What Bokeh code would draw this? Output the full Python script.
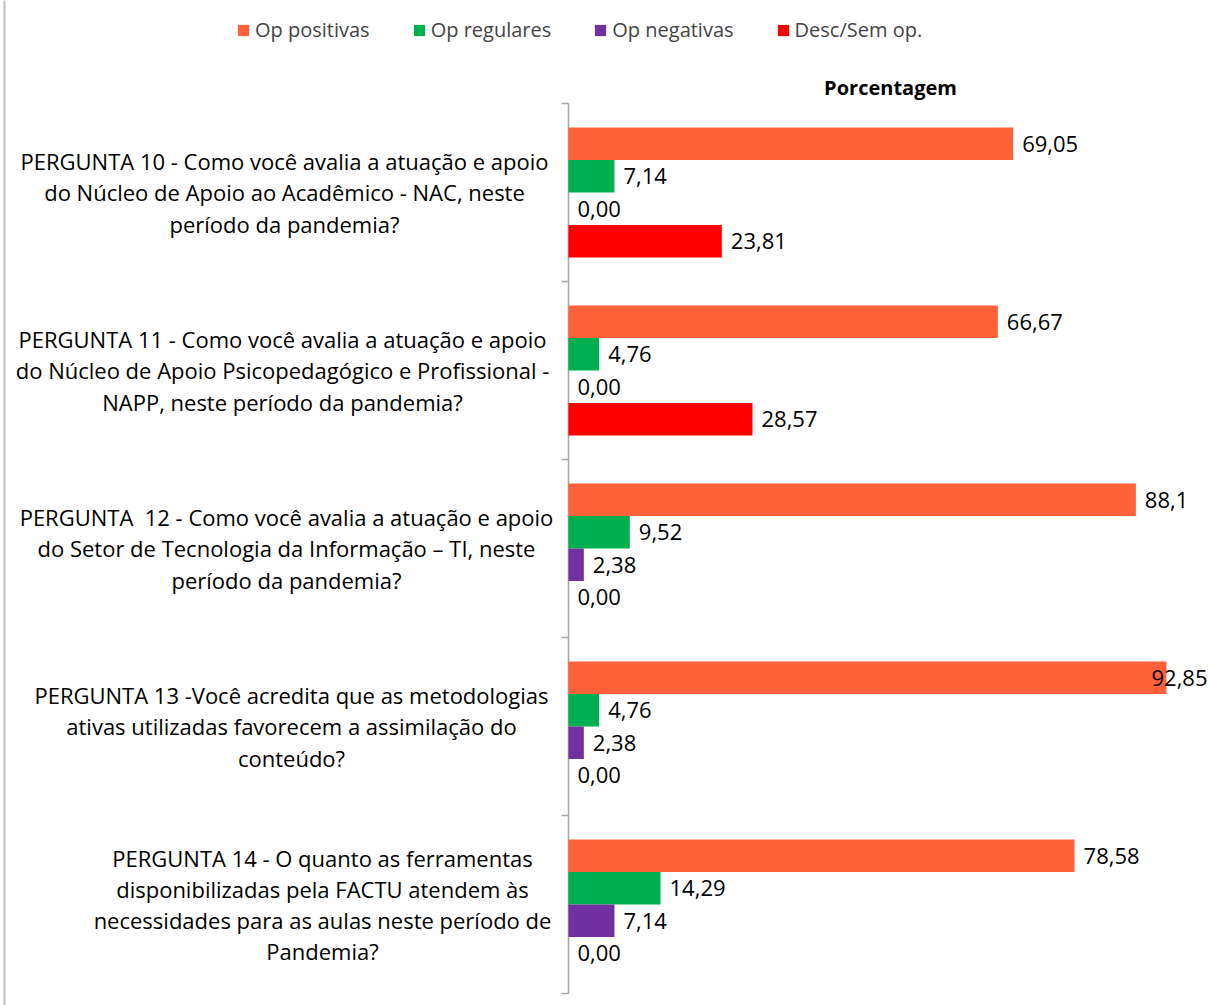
from bokeh.plotting import figure
from bokeh.models import ColumnDataSource, Range1d, Legend, LegendItem
from bokeh.core.properties import value
from bokeh.embed import file_html
from bokeh.resources import INLINE

# ---------------- data ----------------
questions = [
    "PERGUNTA 10 - Como você avalia a atuação e apoio\ndo Núcleo de Apoio ao Acadêmico - NAC, neste\nperíodo da pandemia?",
    "PERGUNTA 11 - Como você avalia a atuação e apoio\ndo Núcleo de Apoio Psicopedagógico e Profissional -\nNAPP, neste período da pandemia?",
    "PERGUNTA\u00a0 12 - Como você avalia a atuação e apoio\ndo Setor de Tecnologia da Informação – TI, neste\nperíodo da pandemia?",
    "PERGUNTA 13 -Você acredita que as metodologias\nativas utilizadas favorecem a assimilação do\nconteúdo?",
    "PERGUNTA 14 - O quanto as ferramentas\ndisponibilizadas pela FACTU atendem às\nnecessidades para as aulas neste período de\nPandemia?",
]
series_names = ["Op positivas", "Op regulares", "Op negativas", "Desc/Sem op."]
op_positivas = ["69,05", "66,67", "88,1", "92,85", "78,58"]
op_regulares = ["7,14", "4,76", "9,52", "4,76", "14,29"]
op_negativas = ["0,00", "0,00", "2,38", "2,38", "7,14"]
desc_sem_op = ["23,81", "28,57", "0,00", "0,00", "0,00"]
series_values = [op_positivas, op_regulares, op_negativas, desc_sem_op]
colors = ["#FF6139", "#00B050", "#7030A0", "#FF0000"]
title_text = "Porcentagem"

# ---------------- layout ----------------
FONT = "Open Sans"
FS = "22px"
W, H = 1210, 1005
ZERO_X = 568          # canvas x of value 0 (axis line)
TOP_Y = 103           # canvas y of the first group's top edge
GROUP_PX = 178        # height of one category band
PX = 6.44             # px per percentage unit
n = len(questions)
bar_h = 0.1826
label_centers_px = [284, 282, 286, 291, 322]  # centre of category text blocks
AXIS_COLOR = "#A6A6A6"

def dx(px):  # canvas x -> data x
    return (px - ZERO_X) / PX

p = figure(width=W, height=H, output_backend="svg", toolbar_location=None,
           x_range=Range1d(dx(0), dx(W)),
           y_range=Range1d((H - TOP_Y) / GROUP_PX, -TOP_Y / GROUP_PX),
           min_border=0, x_axis_type=None, y_axis_type=None)
p.outline_line_color = None
p.grid.visible = False
p.background_fill_color = "white"
p.border_fill_color = "white"

# chart border (left edge) and category axis
p.segment(x0=[dx(4)], y0=[p.y_range.start], x1=[dx(4)], y1=[p.y_range.end],
          line_color="#BFBFBF", line_width=2)
p.segment(x0=[0], y0=[0], x1=[0], y1=[n], line_color=AXIS_COLOR, line_width=1.5)
bounds = list(range(n + 1))
p.segment(x0=[dx(ZERO_X - 7)] * len(bounds), y0=bounds, x1=[0] * len(bounds), y1=bounds,
          line_color=AXIS_COLOR, line_width=1.5)

legend_items = []
for j, (name, vals, col) in enumerate(zip(series_names, series_values, colors)):
    nums = [float(s.replace(",", ".")) for s in vals]
    ys = [i + 0.5 + (j - 1.5) * bar_h for i in range(n)]
    xs, aligns = [], []
    for v in nums:
        if ZERO_X + v * PX + 9 + 58 > W:
            xs.append(dx(W - 3)); aligns.append("right")
        else:
            xs.append(v); aligns.append("left")
    src = ColumnDataSource(dict(y=ys, v=nums, t=vals, lx=xs, al=aligns,
                                off=[9 if a == "left" else 0 for a in aligns]))
    r = p.hbar(y="y", left=0, right="v", height=bar_h, source=src,
               fill_color=col, line_color=None)
    legend_items.append(LegendItem(label=name, renderers=[r]))
    p.text(x="lx", y="y", text="t", source=src, x_offset="off",
           text_align="al", text_baseline="middle",
           text_font=value(FONT), text_font_size=FS, text_color="black")

cat_src = ColumnDataSource(dict(x=[dx(c) for c in label_centers_px],
                                y=[i + 0.5 for i in range(n)], t=questions))
p.text(x="x", y="y", text="t", source=cat_src, text_align="center",
       text_baseline="middle", text_font=value(FONT), text_font_size=FS,
       text_line_height=1.035, text_color="black")

p.text(x=[dx(890)], y=[-16 / GROUP_PX], text=[title_text], text_align="center",
       text_baseline="middle", text_font=value(FONT), text_font_size="20px",
       text_font_style="bold", text_color="black")

legend = Legend(items=legend_items, orientation="horizontal", location=(236, 962),
                label_text_font=FONT, label_text_font_size="20px",
                glyph_width=14, glyph_height=14, label_standoff=5, spacing=42,
                padding=0, margin=0, border_line_color=None, background_fill_alpha=0)
p.add_layout(legend, "center")

open("out.html", "w").write(file_html(p, INLINE))
